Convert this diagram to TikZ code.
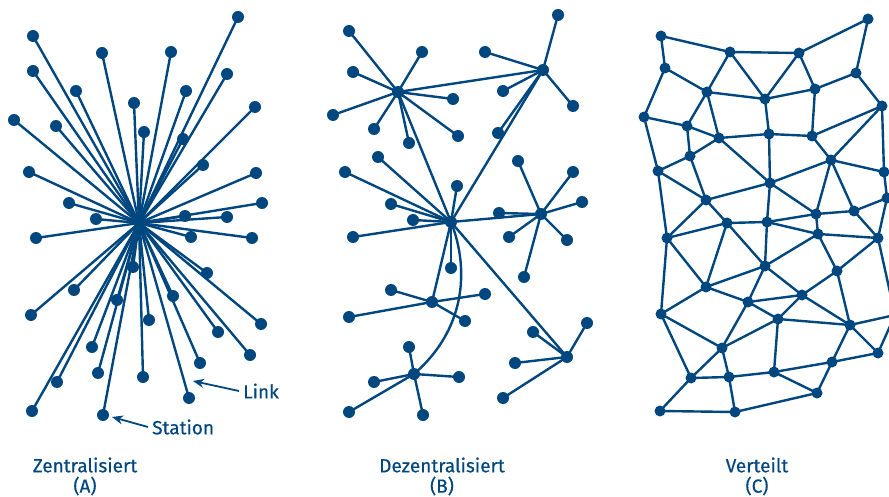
\documentclass[tikz,border=0pt]{standalone}
\usepackage{fontspec}
\setmainfont{Fira Sans}[FakeBold=0.4]
\usetikzlibrary{arrows.meta}
\definecolor{netblue}{RGB}{0,71,127}
\pgfdeclarelayer{bg}
\pgfsetlayers{bg,main}
\begin{document}
\begin{tikzpicture}[x=1pt,y=-1pt,
  dotA/.style={circle,fill=netblue,inner sep=0pt,minimum size=12pt},
  dotC/.style={circle,fill=netblue,inner sep=0pt,minimum size=11pt},
  link/.style={draw=netblue,line width=2.4pt},
  lbl/.style={text=netblue,font=\fontsize{19}{21}\selectfont,inner sep=0pt},
  pointer/.style={draw=netblue,line width=1.8pt,-{Stealth[length=11pt,width=9pt]}}]
\useasboundingbox (0,0) rectangle (889,497);

% ---------- Panel A : centralised ----------
\coordinate (ac) at (139,223);
\foreach \x/\y [count=\i] in {238/17, 33/36, 102/53, 171/52, 33/71, 227/74, 76/91, 186/91, 134/103, 255/107, 14/120, 56/126, 144/132, 183/139, 203/165, 29/172, 256/173, 69/203, 262/203, 96/219, 185/216, 227/217, 36/238, 191/237, 252/238, 133/267, 207/273, 74/290, 117/300, 173/296, 31/315, 149/320, 261/324, 218/332, 92/347, 250/355, 200/363, 98/373, 143/377, 57/382, 189/398, 32/411, 103/415}{
  \node[dotA] (a\i) at (\x,\y) {};
  \begin{pgfonlayer}{bg}\draw[link] (ac) -- (a\i.center);\end{pgfonlayer}
}

% ---------- Panel B : decentralised ----------
\node[dotA] (hub) at (451,222) {};
\node[dotA] (h1) at (398,92) {};
\node[dotA] (h2) at (543,70) {};
\node[dotA] (h3) at (541,214) {};
\node[dotA] (h4) at (432,302) {};
\node[dotA] (h5) at (414,374) {};
\node[dotA] (h6) at (567,357) {};
\begin{pgfonlayer}{bg}
  \draw[link] (h1.center) -- (h2.center);
  \foreach \h in {h1,h2,h3,h4,h6} \draw[link] (hub.center) -- (\h.center);
  \draw[link] (hub.center) .. controls (470,270) and (465,330) .. (h5.center);
\end{pgfonlayer}
\foreach \x/\y [count=\i] in {378/157, 345/172, 457/186, 391/204, 413/220, 353/237, 451/268}{
  \node[dotA] (hs\i) at (\x,\y) {};
  \begin{pgfonlayer}{bg}\draw[link] (hub.center) -- (hs\i.center);\end{pgfonlayer}
}
\foreach \x/\y [count=\i] in {349/31, 422/52, 353/72, 333/115, 374/129, 409/143, 453/99, 458/136}{
  \node[dotA] (ha\i) at (\x,\y) {};
  \begin{pgfonlayer}{bg}\draw[link] (h1.center) -- (ha\i.center);\end{pgfonlayer}
}
\foreach \x/\y [count=\i] in {558/15, 485/52, 503/91, 573/106, 498/133}{
  \node[dotA] (hb\i) at (\x,\y) {};
  \begin{pgfonlayer}{bg}\draw[link] (h2.center) -- (hb\i.center);\end{pgfonlayer}
}
\foreach \x/\y [count=\i] in {499/213, 518/161, 573/172, 582/202, 509/237, 567/240, 524/277}{
  \node[dotA] (hc\i) at (\x,\y) {};
  \begin{pgfonlayer}{bg}\draw[link] (h3.center) -- (hc\i.center);\end{pgfonlayer}
}
\foreach \x/\y [count=\i] in {391/290, 485/294, 349/317, 465/321}{
  \node[dotA] (hd\i) at (\x,\y) {};
  \begin{pgfonlayer}{bg}\draw[link] (h4.center) -- (hd\i.center);\end{pgfonlayer}
}
\foreach \x/\y [count=\i] in {409/347, 374/382, 459/377, 349/412, 423/415}{
  \node[dotA] (he\i) at (\x,\y) {};
  \begin{pgfonlayer}{bg}\draw[link] (h5.center) -- (he\i.center);\end{pgfonlayer}
}
\foreach \x/\y [count=\i] in {533/332, 587/323, 515/363, 503/398}{
  \node[dotA] (hf\i) at (\x,\y) {};
  \begin{pgfonlayer}{bg}\draw[link] (h6.center) -- (hf\i.center);\end{pgfonlayer}
}

% ---------- Panel C : distributed ----------
\foreach \n/\x/\y in {A/661/36, B/730/52, C/799/53, D/868/19, E/665/68, F/707/92, G/765/99, H/815/89, I/856/73, J/644/117, K/687/126, L/719/138, M/769/134, N/812/136, O/882/106, P/690/156, Q/658/171, R/706/200, S/727/223, T/667/238, U/706/287, V/831/160, W/884/172, X/770/183, Y/887/198, Z/816/214, AA/854/211, BB/767/222, CC/818/234, DD/878/238, EE/765/266, FF/837/271, GG/802/295, HH/748/302, II/661/314, JJ/722/348, KK/691/378, LL/729/377, MM/660/411, NN/735/412, PP/778/319, QQ/850/325, RR/878/353, SS/832/362, TT/774/372, UU/817/393, OFF/895/315}{
  \node[dotC] (c\n) at (\x,\y) {};
}
\begin{pgfonlayer}{bg}
\foreach \u/\v in {A/B, A/E, E/F, E/J, B/F, B/G, B/C, F/G, F/K, F/L, J/K, J/Q, K/L, K/P, L/M, L/P, L/X, C/D, C/G, C/H, D/I, I/H, I/O, G/H, G/M, H/N, M/N, N/O, O/W, O/V, N/V, M/X, X/V, X/R, X/Z, X/BB, V/Z, V/AA, V/W, Z/AA, AA/Y, W/Y, Y/DD, P/R, Q/R, P/Q, Q/T, R/S, R/T, S/T, S/BB, S/U, S/EE, T/U, T/II, U/EE, U/HH, U/II, Z/BB, Z/CC, AA/DD, BB/CC, BB/EE, CC/DD, CC/EE, CC/FF, DD/FF, DD/OFF, EE/HH, EE/GG, FF/GG, FF/QQ, HH/GG, HH/PP, HH/JJ, GG/PP, GG/QQ, PP/QQ, PP/JJ, PP/TT, QQ/RR, QQ/SS, QQ/OFF, RR/SS, RR/OFF, SS/TT, SS/UU, TT/LL, TT/UU, II/JJ, II/KK, JJ/KK, JJ/LL, KK/LL, KK/MM, LL/NN, MM/NN, NN/UU}{
  \draw[link] (c\u.center) -- (c\v.center);
}
\end{pgfonlayer}

% ---------- labels ----------
\node[lbl,anchor=west] (linklbl) at (243,391) {Link};
\coordinate (linktip) at (193,381);
\draw[pointer] ([xshift=-4pt]linklbl.west) -- (linktip);
\node[lbl,anchor=west] (stlbl) at (152,427) {Station};
\coordinate (sttip) at (112,417);
\draw[pointer] ([xshift=-4pt]stlbl.west) -- (sttip);

\node[lbl] (tA) at (85,465) {Zentralisiert};
\node[lbl] (tAb) at (85,486) {(A)};
\node[lbl] (tB) at (442,465) {Dezentralisiert};
\node[lbl] (tBb) at (442,486) {(B)};
\node[lbl] (tC) at (757,465) {Verteilt};
\node[lbl] (tCb) at (757,486) {(C)};
\end{tikzpicture}
\end{document}
